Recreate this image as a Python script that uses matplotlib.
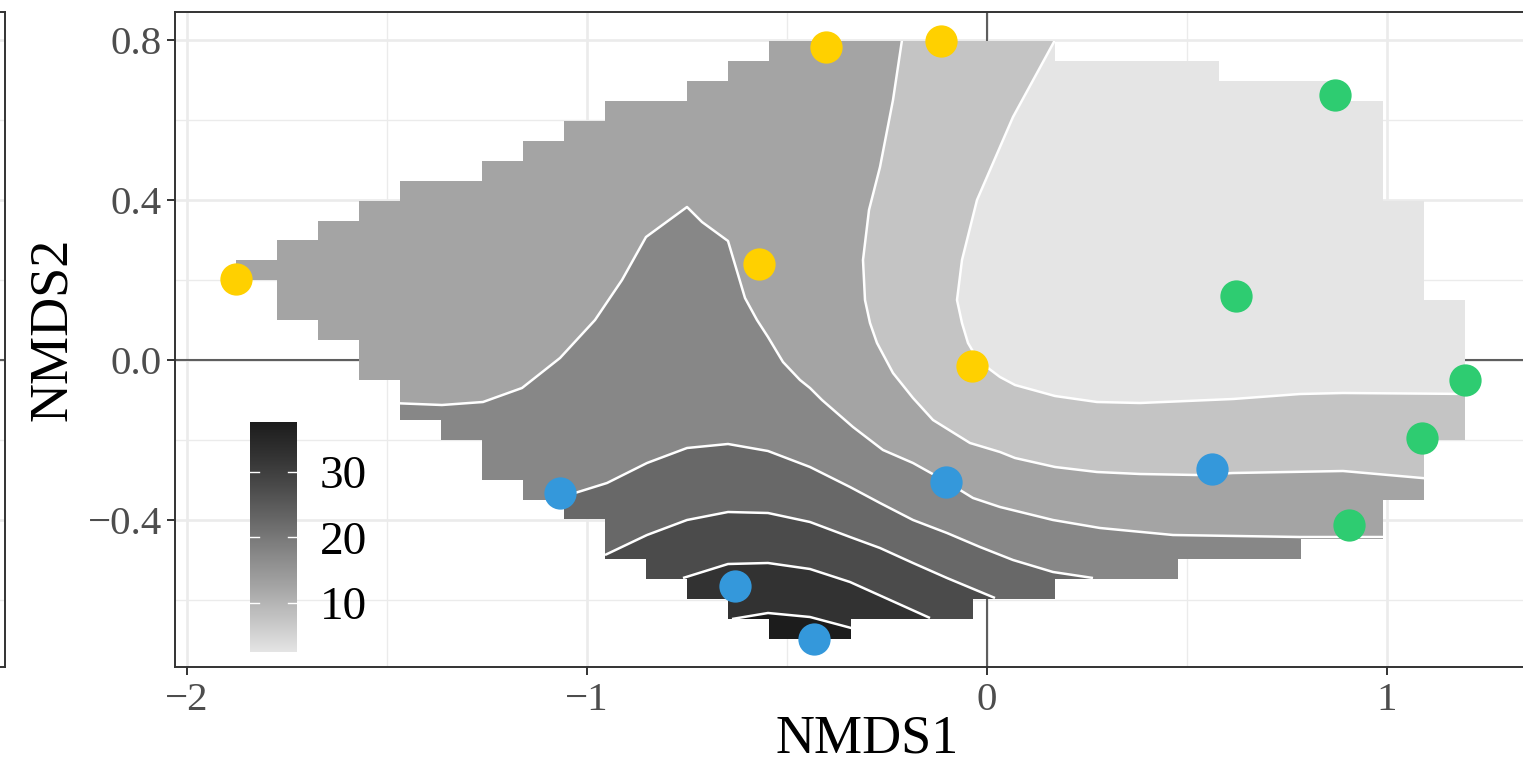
import numpy as np
import matplotlib
matplotlib.use("Agg")
import matplotlib.pyplot as plt
from matplotlib.patches import Polygon
from matplotlib.colors import LinearSegmentedColormap
from matplotlib.ticker import FixedLocator

plt.rcParams['font.family'] = ['Liberation Serif', 'DejaVu Serif']

# ---- site scores (NMDS1, NMDS2) ----
yellow_x = [-1.8775, -0.403, -0.116, -0.569, -0.038]
yellow_y = [0.2025, 0.783, 0.797, 0.241, -0.015]
blue_x = [0.563, -0.1025, -1.0675, -0.63, -0.432]
blue_y = [-0.272, -0.306, -0.333, -0.564, -0.6975]
green_x = [0.87, 0.6225, 1.195, 1.087, 0.904]
green_y = [0.6625, 0.16, -0.05, -0.194, -0.412]

# ---- fitted surface ----
# surface grid is 31 x 31 over the range of the scores; for each grid row
# (bottom to top) the first and last grid column that carries a value
row_first = [13, 12, 11, 10, 9, 9, 8, 7, 6, 6, 5, 4, 4, 3, 3,
             2, 1, 1, 0, 1, 2, 3, 4, 6, 7, 8, 9, 11, 12, 13]
row_last = [15, 18, 20, 23, 26, 28, 28, 29, 29, 29, 30, 30, 30, 30, 30,
            30, 30, 29, 29, 29, 29, 29, 28, 28, 28, 28, 28, 27, 24, 20]

levels = [5, 10, 15, 20, 25, 30, 35]
band_colors = ['#e5e5e5', '#c4c4c4', '#a4a4a4', '#878787',
               '#686868', '#4b4b4b', '#323232', '#1c1c1c']
z_min, z_max = 2.5, 37.6
cbar_ticks = [10, 20, 30]

# contour lines, with the edge each one runs out to
contours = {
    5: ([0.17, 0.065, -0.025, -0.0625, -0.075, -0.0625, -0.0475, -0.0225, 0.0025,
         0.0325, 0.07, 0.17, 0.275, 0.3825, 0.615, 0.7825, 0.89, 1.22],
        [0.80, 0.6075, 0.40, 0.25, 0.15, 0.0925, 0.0425, 0.0, -0.02,
         -0.0425, -0.0625, -0.09, -0.105, -0.1075, -0.0975, -0.085, -0.0825, -0.085],
        'top', 'right'),
    10: ([-0.2125, -0.235, -0.2675, -0.295, -0.31, -0.305, -0.2925, -0.275, -0.235,
          -0.185, -0.135, -0.0425, 0.0325, 0.07, 0.17, 0.275, 0.3825, 0.525, 0.615,
          0.89, 1.11],
         [0.80, 0.65, 0.4825, 0.375, 0.25, 0.15, 0.0925, 0.0425, -0.0325,
          -0.095, -0.15, -0.2075, -0.23, -0.245, -0.2675, -0.28, -0.285, -0.2875, -0.2825,
          -0.2775, -0.297],
         'top', 'right'),
    15: ([-1.49, -1.3625, -1.26, -1.1625, -1.0675, -0.98, -0.9125, -0.8525, -0.75,
          -0.7125, -0.6475, -0.605, -0.575, -0.5475, -0.51, -0.4675, -0.4425, -0.4125,
          -0.335, -0.26, -0.185, -0.10, -0.035, 0.0325, 0.165, 0.2825, 0.465, 0.7825, 1.01],
         [-0.1075, -0.1125, -0.105, -0.07, 0.005, 0.10, 0.20, 0.3075, 0.3825,
          0.345, 0.2975, 0.155, 0.10, 0.0575, -0.005, -0.05, -0.07, -0.10,
          -0.1675, -0.225, -0.2575, -0.305, -0.345, -0.3675, -0.40, -0.42, -0.4375, -0.4425, -0.4425],
         'left', 'right'),
    20: ([-1.0625, -0.95, -0.85, -0.75, -0.6475, -0.5475, -0.4425, -0.3425, -0.2675,
          -0.185, -0.10, -0.0175, 0.065, 0.165, 0.265],
         [-0.3425, -0.3075, -0.2575, -0.22, -0.21, -0.2275, -0.2675, -0.3175, -0.3575,
          -0.40, -0.4325, -0.4675, -0.50, -0.53, -0.545],
         'bottom', 'bottom'),
    25: ([-0.955, -0.85, -0.75, -0.6475, -0.5475, -0.4425, -0.3425, -0.2675, -0.185,
          -0.10, 0.02],
         [-0.4875, -0.4375, -0.40, -0.38, -0.3825, -0.405, -0.4425, -0.47, -0.5075,
          -0.545, -0.595],
         'bottom', 'bottom'),
    30: ([-0.76, -0.6475, -0.5475, -0.4425, -0.3425, -0.2425, -0.1425],
         [-0.545, -0.51, -0.5075, -0.5225, -0.555, -0.60, -0.645],
         'bottom', 'bottom'),
    35: ([-0.6375, -0.5475, -0.4425, -0.33],
         [-0.6475, -0.6325, -0.6425, -0.6725],
         'bottom', 'right'),
}

x_ticks = [-2, -1, 0, 1]
x_labels = ['\u22122', '\u22121', '0', '1']
y_ticks = [-0.4, 0.0, 0.4, 0.8]
y_labels = ['\u22120.4', '0.0', '0.4', '0.8']

all_x = yellow_x + blue_x + green_x
all_y = yellow_y + blue_y + green_y
gx = np.linspace(min(all_x), max(all_x), 31)
gy = np.linspace(min(all_y), max(all_y), 31)

# outline of the gridded surface (staircase)
outline = []
for j in range(30):
    outline += [(gx[row_last[j]], gy[j]), (gx[row_last[j]], gy[j + 1])]
for j in range(29, -1, -1):
    outline += [(gx[row_first[j]], gy[j + 1]), (gx[row_first[j]], gy[j])]

sides = ['right', 'bottom', 'left', 'top']
corner_after = {'right': (5, -5), 'bottom': (-5, -5), 'left': (-5, 5), 'top': (5, 5)}


def out_point(side, x, y):
    return {'right': (5, y), 'left': (-5, y), 'top': (x, 5), 'bottom': (x, -5)}[side]


def high_side(xs, ys, start, end):
    pts = list(zip(xs, ys))
    pts.append(out_point(end, xs[-1], ys[-1]))
    i = sides.index(end)
    while sides[i] != start:
        pts.append(corner_after[sides[i]])
        i = (i + 1) % 4
    pts.append(out_point(start, xs[0], ys[0]))
    return pts


W, H = 1523, 767
fig = plt.figure(figsize=(W / 100, H / 100), dpi=100)
fig.patch.set_facecolor('white')

grid_c = '#ebebeb'
border_c = '#333333'
ref_c = '#5e5e5e'

# part of the neighbouring panel at the left edge
ax0 = fig.add_axes([-0.3, 100 / H, 0.3 + 5 / W, 655 / H])
ax0.set_ylim(-0.7675, 0.87)
ax0.set_xlim(0, 1)
ax0.yaxis.set_major_locator(FixedLocator(y_ticks))
ax0.yaxis.set_minor_locator(FixedLocator([-0.6, -0.2, 0.2, 0.6]))
ax0.set_xticks([])
ax0.tick_params(which='both', length=0, labelleft=False)
ax0.grid(axis='y', which='major', color=grid_c, lw=1.9)
ax0.grid(axis='y', which='minor', color=grid_c, lw=0.95)
ax0.axhline(0, color=ref_c, lw=1.5)
for s in ax0.spines.values():
    s.set_color(border_c)
    s.set_linewidth(1.4)

ax = fig.add_axes([175 / W, 100 / H, (1559 - 175) / W, 655 / H])
ax.set_xlim(-2.03, 1.43)
ax.set_ylim(-0.7675, 0.87)
ax.set_axisbelow(True)
ax.xaxis.set_major_locator(FixedLocator(x_ticks))
ax.xaxis.set_minor_locator(FixedLocator([-1.5, -0.5, 0.5]))
ax.yaxis.set_major_locator(FixedLocator(y_ticks))
ax.yaxis.set_minor_locator(FixedLocator([-0.6, -0.2, 0.2, 0.6]))
ax.set_xticklabels(x_labels)
ax.set_yticklabels(y_labels)
ax.grid(which='major', color=grid_c, lw=1.9, zorder=0)
ax.grid(which='minor', color=grid_c, lw=0.95, zorder=0)
ax.tick_params(which='minor', length=0)
ax.tick_params(which='major', length=5.5, width=1.4, color=border_c,
               labelsize=29.5, labelcolor='#4d4d4d')
ax.tick_params(axis='x', pad=5)
ax.tick_params(axis='y', pad=4)
for s in ax.spines.values():
    s.set_color(border_c)
    s.set_linewidth(1.4)

ax.axhline(0, color=ref_c, lw=1.5, zorder=1)
ax.axvline(0, color=ref_c, lw=1.5, zorder=1)

hull = Polygon(outline, closed=True, fc=band_colors[0], ec='none', zorder=2)
ax.add_patch(hull)
for k, lev in enumerate(levels):
    xs, ys, start, end = contours[lev]
    p = Polygon(high_side(xs, ys, start, end), closed=True,
                fc=band_colors[k + 1], ec='none', zorder=3)
    ax.add_patch(p)
    p.set_clip_path(hull)
for lev in levels:
    xs, ys, start, end = contours[lev]
    ln, = ax.plot(xs, ys, color='white', lw=1.8, zorder=4, solid_capstyle='butt')
    ln.set_clip_path(hull)

pt_size = 540
ax.scatter(yellow_x, yellow_y, s=pt_size, color='#ffd000', lw=0, zorder=5)
ax.scatter(blue_x, blue_y, s=pt_size, color='#3498db', lw=0, zorder=5)
ax.scatter(green_x, green_y, s=pt_size, color='#2ecc71', lw=0, zorder=5)

ax.set_xlabel('NMDS1', fontsize=39)
ax.set_ylabel('NMDS2', fontsize=39)
ax.xaxis.set_label_coords(0.5, -0.071)
ax.yaxis.set_label_coords(-0.07, 0.515)

# colour bar legend inside the panel
cax = fig.add_axes([250 / W, (H - 652) / H, 47 / W, 230 / H])
cmap = LinearSegmentedColormap.from_list('greys_surf', band_colors)
cax.imshow(np.linspace(z_max, z_min, 256)[:, None], aspect='auto', cmap=cmap,
           extent=[0, 1, z_min, z_max])
cax.set_xlim(0, 1)
cax.set_ylim(z_min, z_max)
cax.axis('off')
for t in cbar_ticks:
    cax.plot([0, 0.2], [t, t], color='white', lw=1.0)
    cax.plot([0.8, 1], [t, t], color='white', lw=1.0)
    cax.text(1.49, t, str(t), fontsize=34, ha='left', va='center_baseline',
             clip_on=False)

fig.savefig('out.png', dpi=100)
